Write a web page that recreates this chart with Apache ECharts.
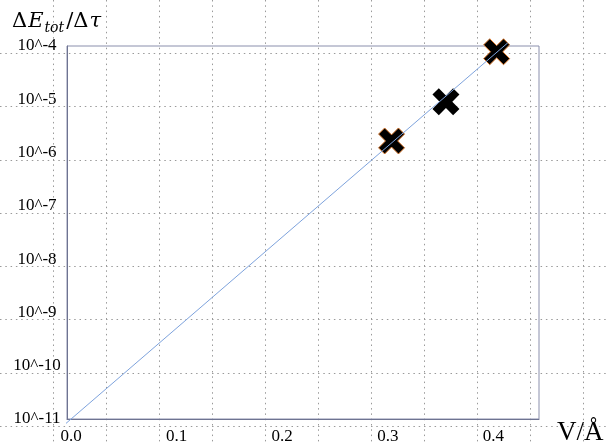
<!DOCTYPE html>
<html>
<head>
<meta charset="utf-8">
<script src="https://cdn.jsdelivr.net/npm/echarts@6/dist/echarts.min.js"></script>
<style>
html,body{margin:0;padding:0;background:#fff;}
#c{width:607px;height:445px;}
</style>
</head>
<body>
<div id="c"></div>
<script>
// ---- data ----
const xTickValues = [0, 0.1, 0.2, 0.3, 0.4];
const yTickExponents = [-11, -10, -9, -8, -7, -6, -5, -4];
// measured points (outlined markers)
const ptsOutlinedX = [0.3035, 0.403];
const ptsOutlinedY = [1.65e-6, 7.8e-5];
// measured point (plain marker)
const ptsPlainX = [0.355];
const ptsPlainY = [9.0e-6];
// fit line end points
const fitX = [-0.0053, 0.4136];
const fitY = [8.1e-12, 1.15e-4];

const serif = "'Liberation Serif', 'Times New Roman', serif";
const xSymbol = 'path://M0,0.235 L0.235,0 L0.5,0.265 L0.765,0 L1,0.235 L0.735,0.5 L1,0.765 L0.765,1 L0.5,0.735 L0.235,1 L0,0.765 L0.265,0.5 Z';

const chart = echarts.init(document.getElementById('c'), null, {renderer: 'canvas'});
const bgDot = {show: true, lineStyle: {color: '#9a9a9a', width: 1, type: [1.5, 3.8]}, showMinLine: false, showMaxLine: false};

chart.setOption({
  animation: false,
  backgroundColor: '#ffffff',
  grid: [
    {left: 67, top: 46, width: 472, height: 373, show: true, borderColor: '#8a8fac', borderWidth: 1, backgroundColor: 'transparent', z: 3},
    {left: 0, top: 0, width: 607, height: 445, show: false, z: 0}
  ],
  xAxis: [
    {
      gridIndex: 0, type: 'value', min: -0.0038, max: 0.4431,
      axisLine: {show: true, onZero: false, lineStyle: {color: '#6e7391', width: 1}},
      axisTick: {show: false},
      splitLine: {show: false},
      axisLabel: {
        customValues: xTickValues,
        formatter: v => v.toFixed(1),
        fontFamily: serif, fontSize: 17, color: '#000', margin: 9
      },
      z: 3
    },
    {
      gridIndex: 1, type: 'value', min: -20.7, max: 586.3, interval: 53.03,
      axisLine: {show: false}, axisTick: {show: false}, axisLabel: {show: false},
      splitLine: bgDot, z: 0
    }
  ],
  yAxis: [
    {
      gridIndex: 0, type: 'log', logBase: 10, min: 1e-11, max: 1e-4, interval: 1,
      axisLine: {show: true, onZero: false, lineStyle: {color: '#6e7391', width: 1}},
      axisTick: {show: false},
      splitLine: {show: false},
      axisLabel: {
        customValues: yTickExponents.map(e => Math.pow(10, e)),
        formatter: v => '10^' + Math.round(Math.log10(v)),
        fontFamily: serif, fontSize: 17, color: '#000', margin: 30, align: 'center'
      },
      z: 3
    },
    {
      gridIndex: 1, type: 'value', inverse: true, min: -46, max: 399, interval: 53.29,
      axisLine: {show: false}, axisTick: {show: false}, axisLabel: {show: false},
      splitLine: bgDot, z: 0
    }
  ],
  series: [
    {
      type: 'scatter', xAxisIndex: 0, yAxisIndex: 0, z: 4,
      symbol: xSymbol, symbolSize: 26,
      itemStyle: {color: '#000', borderColor: '#d9782e', borderWidth: 1, opacity: 1},
      data: ptsOutlinedX.map((x, i) => [x, ptsOutlinedY[i]])
    },
    {
      type: 'scatter', xAxisIndex: 0, yAxisIndex: 0, z: 4,
      symbol: xSymbol, symbolSize: 27,
      itemStyle: {color: '#000', opacity: 1},
      data: ptsPlainX.map((x, i) => [x, ptsPlainY[i]])
    },
    {
      type: 'line', xAxisIndex: 0, yAxisIndex: 0, z: 5, clip: false,
      symbol: 'none', silent: true,
      lineStyle: {color: '#7ea3dd', width: 1},
      data: fitX.map((x, i) => [x, fitY[i]])
    }
  ],
  graphic: [
    {
      type: 'text', left: 12, top: 9, z: 10,
      style: {
        text: '{n|Δ}{i|E}{s|tot}{n|/Δ}{i|τ}',
        rich: {
          n: {fontFamily: 'DejaVu Serif', fontSize: 21, lineHeight: 28, fill: '#000'},
          i: {fontFamily: 'DejaVu Serif', fontStyle: 'italic', fontSize: 21, lineHeight: 28, fill: '#000', padding: [0, 1, 0, 1]},
          s: {fontFamily: 'DejaVu Serif', fontStyle: 'italic', fontSize: 14, lineHeight: 14, fill: '#000', padding: [12, 2, 0, 0]}
        }
      }
    },
    {
      type: 'text', left: 557, top: 419, z: 10,
      style: {text: 'V/Å', fontFamily: serif, fontSize: 27, fill: '#000'}
    }
  ]
});
</script>
</body>
</html>
